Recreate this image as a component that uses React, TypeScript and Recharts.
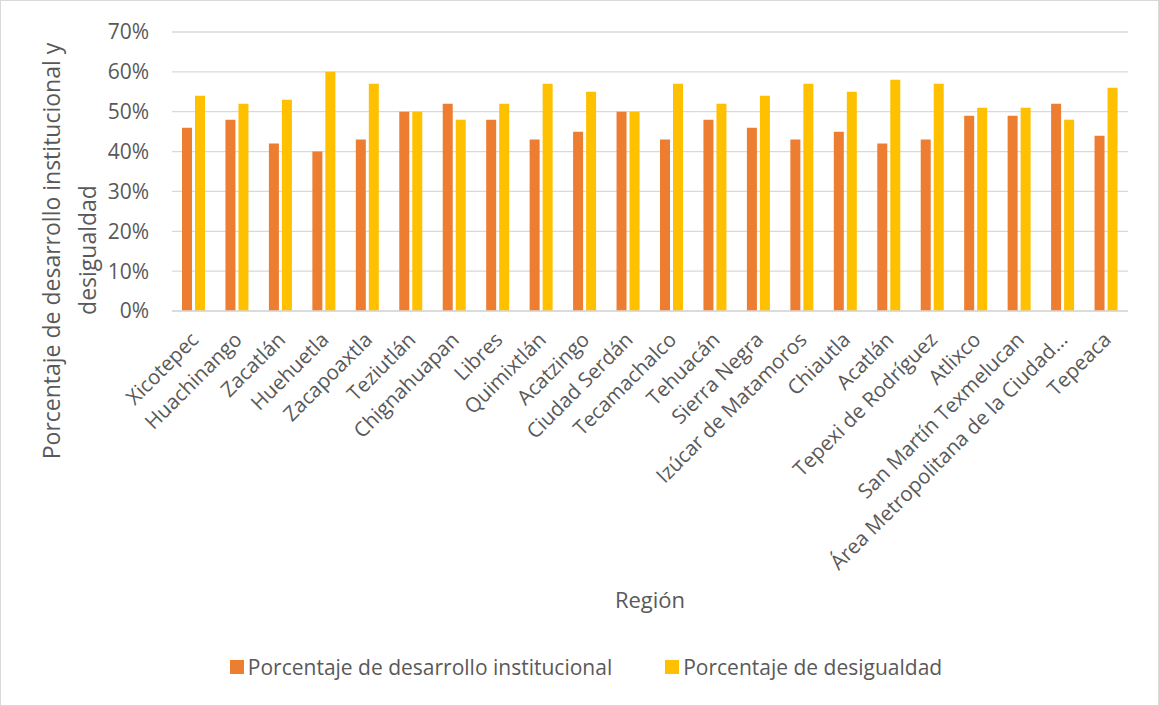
import React from "react";
import { BarChart, Bar, XAxis, YAxis, CartesianGrid, Legend, Label } from "recharts";

// Regiones y porcentajes
const regiones = [
    "Xicotepec", "Huachinango", "Zacatlán", "Huehuetla", "Zacapoaxtla", "Teziutlán",
    "Chignahuapan", "Libres", "Quimixtlán", "Acatzingo", "Ciudad Serdán", "Tecamachalco",
    "Tehuacán", "Sierra Negra", "Izúcar de Matamoros", "Chiautla", "Acatlán",
    "Tepexi de Rodríguez", "Atlixco", "San Martín Texmelucan",
    "Área Metropolitana de la Ciudad...", "Tepeaca",
];
const desarrolloInstitucional = [46, 48, 42, 40, 43, 50, 52, 48, 43, 45, 50, 43, 48, 46, 43, 45, 42, 43, 49, 49, 52, 44];
const desigualdad = [54, 52, 53, 60, 57, 50, 48, 52, 57, 55, 50, 57, 52, 54, 57, 55, 58, 57, 51, 51, 48, 56];
const yTicks = [0, 0.1, 0.2, 0.3, 0.4, 0.5, 0.6, 0.7];

const series = [
    { key: "desarrollo", name: "Porcentaje de desarrollo institucional", color: "#ED7D31" },
    { key: "desigualdad", name: "Porcentaje de desigualdad", color: "#FFC000" },
];

const data = regiones.map((region, i) => ({
    region,
    desarrollo: desarrolloInstitucional[i] / 100,
    desigualdad: desigualdad[i] / 100,
}));

const FONT = "'Open Sans', sans-serif";
const TEXT = "#595959";

const XTick = ({ x, y, payload }: any) => (
    <text
        x={x + 6}
        y={y + 22}
        transform={`rotate(-45, ${x + 6}, ${y + 22})`}
        textAnchor="end"
        fontSize={20.5}
        fill={TEXT}
        fontFamily={FONT}
    >
        {payload.value}
    </text>
);

const YTitle = () => (
    <g fontFamily={FONT} fontSize={23} fill={TEXT}>
        <text x={51} y={251} transform="rotate(-90, 51, 251)" textAnchor="middle" dominantBaseline="central">
            Porcentaje de desarrollo institucional y
        </text>
        <text x={87} y={250} transform="rotate(-90, 87, 250)" textAnchor="middle" dominantBaseline="central">
            desigualdad
        </text>
    </g>
);

const LegendContent = () => (
    <div style={{ display: "flex", justifyContent: "center", alignItems: "center", gap: 53, paddingLeft: 44, fontFamily: FONT, fontSize: 21, color: TEXT, height: 26 }}>
        {series.map((s) => (
            <span key={s.key} style={{ display: "flex", alignItems: "center" }}>
                <span style={{ width: 14, height: 14, background: s.color, marginRight: 4, display: "inline-block" }} />
                {s.name}
            </span>
        ))}
    </div>
);

export default function App() {
    return (
        <div style={{ position: "absolute", left: 0, top: 0, width: 1159, height: 706, background: "#fff", boxShadow: "inset 0 0 0 1px #D9D9D9" }}>
            <BarChart
                width={1159}
                height={706}
                data={data}
                margin={{ top: 32, right: 31, left: 0, bottom: 26 }}
                barSize={10}
                barGap={3}
            >
                <CartesianGrid vertical={false} stroke="#D9D9D9" strokeWidth={1.3} />
                <XAxis
                    dataKey="region"
                    interval={0}
                    height={343}
                    tick={<XTick />}
                    tickLine={false}
                    axisLine={{ stroke: "#D9D9D9", strokeWidth: 1.3 }}
                >
                    <Label value="Región" position="insideBottom" offset={46} fontSize={22} fill={TEXT} fontFamily={FONT} />
                </XAxis>
                <YAxis
                    width={172}
                    domain={[0, 0.7]}
                    ticks={yTicks}
                    tickFormatter={(v: number) => `${Math.round(v * 100)}%`}
                    tick={{ fontSize: 21, fill: TEXT, fontFamily: FONT }}
                    tickLine={false}
                    axisLine={false}
                    tickMargin={17}
                >
                    <Label content={<YTitle />} />
                </YAxis>
                <Legend verticalAlign="bottom" height={26} content={<LegendContent />} />
                {series.map((s) => (
                    <Bar key={s.key} dataKey={s.key} name={s.name} fill={s.color} isAnimationActive={false} />
                ))}
            </BarChart>
        </div>
    );
}
